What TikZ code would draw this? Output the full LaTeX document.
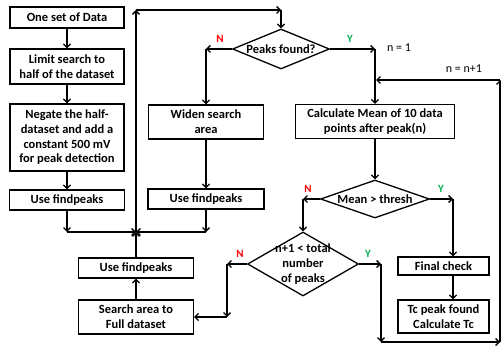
\documentclass[tikz,border=0pt]{standalone}
\usepackage{fontspec}
\setmainfont{Carlito}
\usetikzlibrary{shapes.geometric,arrows.meta}
\definecolor{yesgreen}{RGB}{0,176,80}
\definecolor{nored}{RGB}{255,0,0}

\begin{document}
\begin{tikzpicture}[x=1pt,y=-1pt,line width=1.3pt,
  box/.style={draw,rectangle,align=center,inner sep=0pt,
    font=\bfseries\fontsize{12.5}{14.7}\selectfont},
  dia/.style={draw,diamond,inner sep=0pt},
  dlab/.style={align=center,font=\bfseries\fontsize{12.5}{14.7}\selectfont},
  arr/.style={-{Straight Barb[length=3.5pt,width=7pt]}},
  yes/.style={text=yesgreen,font=\bfseries\fontsize{11}{13}\selectfont},
  no/.style={text=nored,font=\bfseries\fontsize{11}{13}\selectfont},
  cnt/.style={font=\fontsize{12}{14}\selectfont}]
\useasboundingbox (0,0) rectangle (501,347);

% left column
\node[box,minimum width=114pt,minimum height=21pt] (data) at (67,17.5) {One set of Data};
\node[box,minimum width=114pt,minimum height=35pt] (limit) at (67,66.5) {Limit search to\\half of the dataset};
\node[box,minimum width=114pt,minimum height=67pt] (negate) at (67,137.5) {Negate the half-\\dataset and add a\\constant 500 mV\\for peak detection};
\node[box,minimum width=115pt,minimum height=20pt] (find1) at (67,200) {Use findpeaks};

% middle column
\node[box,minimum width=115pt,minimum height=34pt] (widen) at (206,122) {Widen search\\area};
\node[box,minimum width=116pt,minimum height=20pt] (find2) at (206,199) {Use findpeaks};
\node[box,minimum width=115pt,minimum height=20pt] (find3) at (136,268) {Use findpeaks};
\node[box,minimum width=115pt,minimum height=34pt] (search) at (136,317) {Search area to\\Full dataset};

% decisions
\node[dia,minimum width=97pt,minimum height=40pt,label={[dlab]center:Peaks found?}] (peaks) at (281,49) {};
\node[dia,minimum width=109pt,minimum height=38pt,label={[dlab]center:Mean > thresh}] (thresh) at (375,199) {};
\node[dia,minimum width=111pt,minimum height=64pt,label={[dlab]center:n+1 < total\\number\\of peaks}] (total) at (303,264) {};

% right column
\node[box,minimum width=159pt,minimum height=34pt] (mean) at (375,121.5) {Calculate Mean of 10 data\\points after peak(n)};
\node[box,minimum width=91pt,minimum height=18pt] (check) at (443.5,266) {Final check};
\node[box,minimum width=91pt,minimum height=33pt] (tc) at (443.5,316.5) {Tc peak found\\Calculate Tc};

% branch labels
\node[no] (pno) at (220,39) {N};
\node[yes] (pyes) at (350,39) {Y};
\node[no] (mno) at (308,189) {N};
\node[yes] (myes) at (441,189) {Y};
\node[no] (tno) at (240,254) {N};
\node[yes] (tyes) at (368,254) {Y};
\node[cnt] (nfirst) at (399,48) {n = 1};
\node[cnt] (nnext) at (464,69) {n = n+1};

% corners
\coordinate (j) at (136,232);
\coordinate (c1) at (find1 |- j);
\coordinate (c2) at (find2 |- j);
\coordinate (t1) at (136,10);
\coordinate (t2) at (peaks |- t1);
\coordinate (pn) at (widen |- peaks);
\coordinate (py) at (375,49);
\coordinate (lp) at (376,80);
\coordinate (mn) at (total |- thresh);
\coordinate (my) at (453,199);
\coordinate (tn) at (227,264);
\coordinate (tn2) at (227,317);
\coordinate (ty) at (381,264);
\coordinate (ty2) at (381,342);
\coordinate (rb) at (500,342);
\coordinate (rt) at (500,80);

\draw[arr] (data) -- (limit);
\draw[arr] (limit) -- (negate);
\draw[arr] (negate) -- (find1);
\draw[arr] (find1) -- (c1);
\draw[arr] (c1) -- (j);
\draw[arr] (find2) -- (c2);
\draw[arr] (c2) -- (j);
\draw[arr] (search) -- (find3);
\draw[arr] (find3) -- (j);
\draw[arr] (j) -- (t1);
\draw[arr] (t1) -- (t2);
\draw[arr] (t2) -- (peaks);

\draw[arr] (peaks) -- (pn);
\draw[arr] (pn) -- (widen);
\draw[arr] (widen) -- (find2);
\draw[arr] (peaks) -- (py);
\draw[arr] (py) -- (mean);
\draw[arr] (mean) -- (thresh);

\draw[arr] (thresh) -- (mn);
\draw[arr] (mn) -- (total);
\draw[arr] (thresh) -- (my);
\draw[arr] (my) -- (my |- check.north);
\draw[arr] (check.south -| my) -- (my |- tc.north);

\draw[arr] (total) -- (tn);
\draw[arr] (tn) -- (tn2);
\draw[arr] (tn2) -- (search);
\draw[arr] (total) -- (ty);
\draw[arr] (ty) -- (ty2);
\draw[arr] (ty2) -- (rb);
\draw[arr] (rb) -- (rt);
\draw[arr] (rt) -- (lp);
\end{tikzpicture}
\end{document}
